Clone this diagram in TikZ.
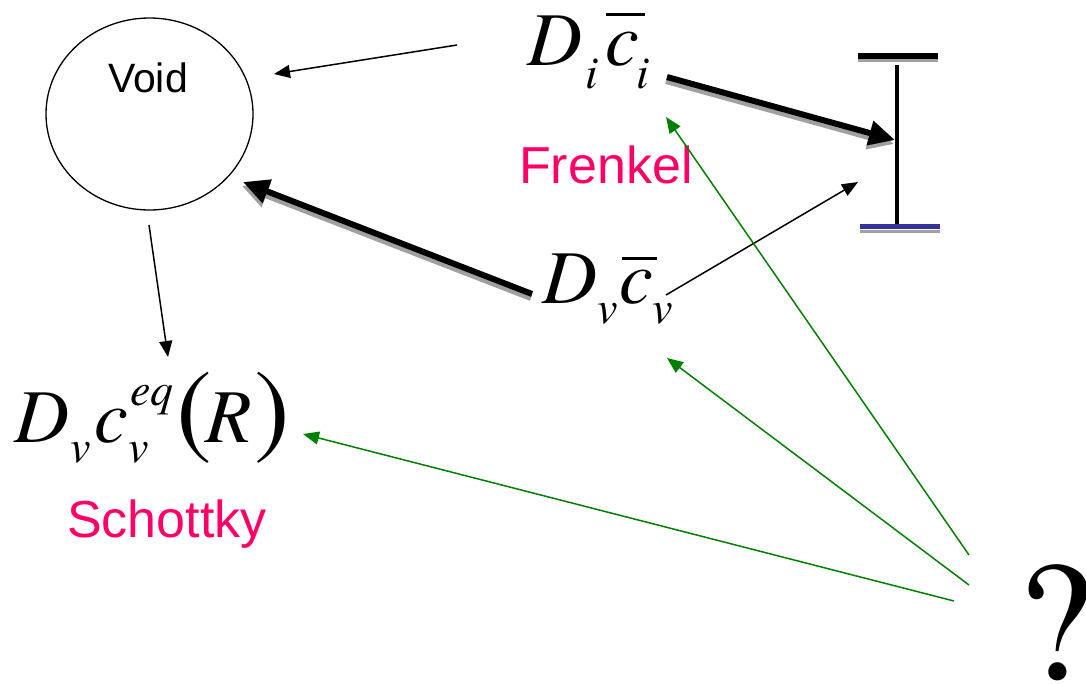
\documentclass[tikz,border=0pt]{standalone}
\usepackage{fontspec}
\setmainfont{texgyretermes}[Extension=.otf, UprightFont=*-regular, ItalicFont=*-italic, BoldFont=*-bold, BoldItalicFont=*-bolditalic]
\newfontfamily\arialfont{Liberation Sans}
\usetikzlibrary{arrows.meta,shapes.geometric}
\definecolor{pinkred}{RGB}{255,0,102}
\definecolor{navyblue}{RGB}{51,51,153}
\definecolor{dgreen}{RGB}{0,128,0}
\definecolor{shadowgray}{RGB}{160,160,160}
\newcommand\bigmi{\rmfamily\itshape\fontsize{76}{76}\selectfont}
\newcommand\smallmi{\rmfamily\itshape\fontsize{46}{46}\selectfont}
\newcommand\parenfont{\rmfamily\upshape\fontsize{107}{107}\selectfont}
\newcommand\sub[1]{\rlap{\smallmi\raisebox{-23pt}{#1}}}
\begin{document}
\begin{tikzpicture}[x=1pt,y=-1pt,
  formula/.style={inner sep=0pt, anchor=base west, font=\bigmi},
  pinklabel/.style={inner sep=0pt, anchor=base west, text=pinkred, font=\arialfont\fontsize{52}{52}\selectfont},
  overbar/.style={line width=3pt},
  thinarrow/.style={line width=1.5pt, -{Triangle[length=16pt,width=13pt]}},
  greenarrow/.style={line width=1.5pt, draw=dgreen, -{Triangle[length=16pt,width=13pt]}},
  thickarrow/.style={line width=6pt, -{Triangle[length=26pt,width=24pt]}},
  thickshadow/.style={line width=6pt, draw=shadowgray, -{Triangle[length=26pt,width=24pt]}, transform canvas={xshift=-1pt, yshift=-4pt}}
]
\useasboundingbox (0,0) rectangle (1086,683);

% Void circle
\node[draw, line width=1.3pt, ellipse, minimum width=207pt, minimum height=192pt, inner sep=0pt] (void) at (149.5,114) {};
\node[inner sep=0pt, anchor=base, font=\arialfont\fontsize{41}{41}\selectfont] (voidtxt) at (148,92) {Void};

% D_i cbar_i
\node[formula] (fi) at (527,65)
  {\rlap{D}\hspace{58pt}\sub{i}\hspace{20pt}\rlap{c}\hspace{31pt}\sub{i}\hspace{14pt}};
\draw[overbar] (606,14) -- (645,14);

% D_v cbar_v
\node[formula] (fv) at (542,303)
  {\rlap{D}\hspace{55pt}\rlap{\smallmi\raisebox{-20pt}{v}}\hspace{22pt}\rlap{c}\hspace{33pt}\rlap{\smallmi\raisebox{-20pt}{v}}\hspace{21pt}};
\draw[overbar] (622,258.5) -- (657,258.5);

% D_v c_v^eq (R)
\node[formula] (feq) at (14,442)
  {\rlap{D}\hspace{56pt}\rlap{\smallmi\raisebox{-20pt}{v}}\hspace{24pt}\rlap{c}\hspace{34pt}\rlap{\smallmi\raisebox{-20pt}{v}}\hspace{2pt}\rlap{\smallmi\raisebox{37pt}{eq}}\hspace{46pt}\rlap{\parenfont\raisebox{-2pt}{(}}\hspace{29pt}\rlap{R}\hspace{49pt}{\parenfont\raisebox{-2pt}{)}}};

% labels
\node[pinklabel] (frenkel) at (519,183) {Frenkel};
\node[pinklabel] (schottky) at (67,537) {Schottky};

% question mark
\node[inner sep=0pt, anchor=base west, font=\rmfamily\fontsize{170}{170}\selectfont] (qm) at (1017,679) {?};

% dislocation symbol
\draw[line width=3pt, shadowgray] (858,60.5) -- (938,60.5);
\draw[line width=5.5pt] (858,56) -- (938,56);
\draw[line width=4pt] (897,65) -- (897,229);
\draw[line width=3pt, shadowgray] (860,231) -- (940,231);
\draw[line width=5.5pt, navyblue] (860,226.5) -- (940,226.5);

% anchor coordinates
\coordinate (a1s) at (457,45);
\coordinate (a1e) at (274,74);
\coordinate (a2s) at (149,225);
\coordinate (a2e) at (168,357);
\coordinate (a3s) at (666,295);
\coordinate (a3e) at (858,182);
\coordinate (t1s) at (667,77);
\coordinate (t1e) at (895,140);
\coordinate (t2s) at (532,294);
\coordinate (t2e) at (243,182);
\coordinate (g1s) at (969,555);
\coordinate (g1e) at (666,117);
\coordinate (g2s) at (969,585);
\coordinate (g2e) at (667,358);
\coordinate (g3s) at (954,601);
\coordinate (g3e) at (303,434);

% thick arrows with shadow
\draw[thickshadow] (t1s) -- (t1e);
\draw[thickarrow] (t1s) -- (t1e);
\draw[thickshadow] (t2s) -- (t2e);
\draw[thickarrow] (t2s) -- (t2e);

% thin arrows
\draw[thinarrow] (a1s) -- (a1e);
\draw[thinarrow] (a2s) -- (a2e);
\draw[thinarrow] (a3s) -- (a3e);

% green arrows
\draw[greenarrow] (g1s) -- (g1e);
\draw[greenarrow] (g2s) -- (g2e);
\draw[greenarrow] (g3s) -- (g3e);
\end{tikzpicture}
\end{document}
